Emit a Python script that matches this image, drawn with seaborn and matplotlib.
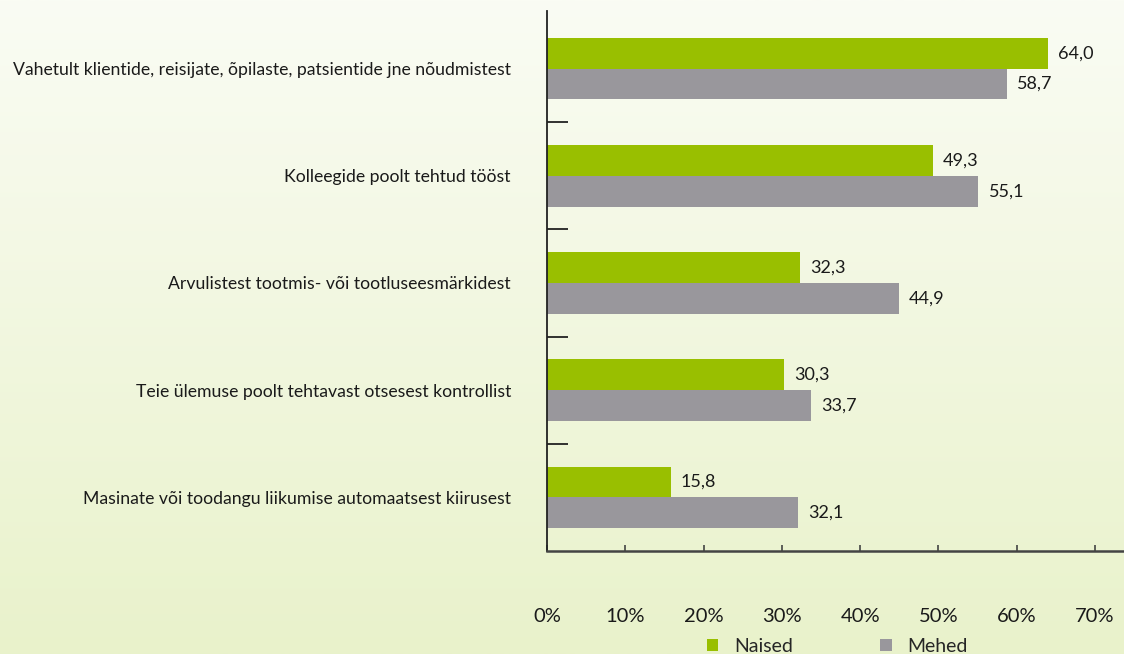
import numpy as np
import pandas as pd
import matplotlib

matplotlib.use("Agg")
import matplotlib.pyplot as plt
from matplotlib.patches import Patch
from matplotlib.ticker import FixedLocator
import seaborn as sns

categories = [
    "Vahetult klientide, reisijate, õpilaste, patsientide jne nõudmistest",
    "Kolleegide poolt tehtud tööst",
    "Arvulistest tootmis- või tootluseesmärkidest",
    "Teie ülemuse poolt tehtavast otsesest kontrollist",
    "Masinate või toodangu liikumise automaatsest kiirusest",
]
naised = [64.0, 49.3, 32.3, 30.3, 15.8]
mehed = [58.7, 55.1, 44.9, 33.7, 32.1]
groups = ["Naised", "Mehed"]
colors = ["#99bf00", "#99979c"]
x_ticks = [0, 10, 20, 30, 40, 50, 60, 70]

df = pd.DataFrame({
    "kategooria": categories * 2,
    "väärtus": naised + mehed,
    "sugu": ["Naised"] * len(categories) + ["Mehed"] * len(categories),
})

sns.set_style("white")
plt.rcParams["font.family"] = ["Lato", "DejaVu Sans"]

fig = plt.figure(figsize=(11.24, 6.54), dpi=100)

# background gradient
bg = fig.add_axes([0, 0, 1, 1], zorder=-10)
grad = np.linspace(0, 1, 256).reshape(-1, 1)
top = np.array([250, 252, 244]) / 255
bot = np.array([233, 242, 203]) / 255
img = top[None, None, :] * (1 - grad[:, :, None]) + bot[None, None, :] * grad[:, :, None]
bg.imshow(img, aspect="auto", extent=[0, 1, 0, 1])
bg.axis("off")

ax = fig.add_axes([0.4867, 0.1575, 0.5133, 0.8196])
ax.patch.set_alpha(0)
sns.barplot(data=df, y="kategooria", x="väärtus", hue="sugu", hue_order=groups,
            palette=colors, orient="h", width=0.575, ax=ax, legend=False,
            saturation=1, linewidth=0, edgecolor="none")

ax.set_xlim(0, 73.7)
ax.set_ylim(len(categories) - 0.5, -0.5)
ax.set_xlabel("")
ax.set_ylabel("")

for cont in ax.containers:
    for bar in cont:
        w = bar.get_width()
        ax.text(w + 1.3, bar.get_y() + bar.get_height() / 2,
                f"{w:.1f}".replace(".", ","), va="center", ha="left",
                fontsize=13, color="#1a1a1a")

ax.set_xticks(x_ticks)
ax.set_xticklabels([f"{t}%" for t in x_ticks], fontsize=14.5, color="#1a1a1a")
ax.tick_params(axis="x", bottom=True, direction="in", length=4.5, width=1.2,
               color="#444444", pad=41)
ax.tick_params(axis="y", which="major", left=False, length=0, pad=26,
               labelsize=12.7, labelcolor="#1a1a1a")
ax.yaxis.set_minor_locator(FixedLocator([0.5, 1.5, 2.5, 3.5]))
ax.tick_params(axis="y", which="minor", left=True, direction="in", length=15,
               width=1.3, color="#222222")

for s in ["top", "right"]:
    ax.spines[s].set_visible(False)
ax.spines["left"].set_color("#222222")
ax.spines["left"].set_linewidth(1.3)
ax.spines["left"].set_bounds(len(categories) - 0.5, -0.54)
ax.spines["bottom"].set_color("#444444")
ax.spines["bottom"].set_linewidth(1.8)

handles = [Patch(facecolor=c, edgecolor="none") for c in colors]
fig.legend(handles, groups, loc="center", bbox_to_anchor=(0.745, 0.012), ncol=2,
           frameon=False, fontsize=14, handlelength=0.6, handleheight=0.6,
           columnspacing=4.5, handletextpad=0.8)

fig.savefig("out.png", dpi=100)
